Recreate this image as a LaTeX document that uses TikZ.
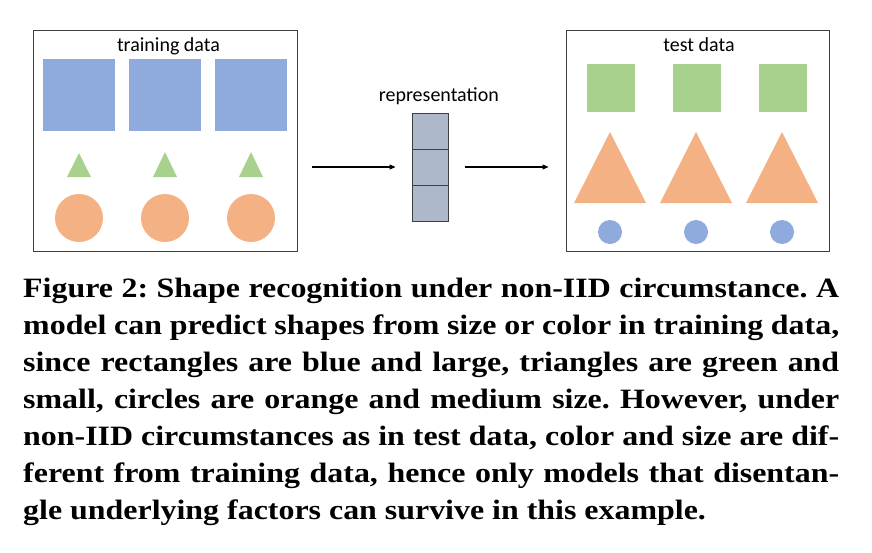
\documentclass[tikz,border=0pt]{standalone}
\usepackage{fontspec}
\setmainfont{Carlito}
\newfontfamily\capfont[FakeStretch=1.14]{Liberation Serif}
\usetikzlibrary{positioning,arrows.meta}

\definecolor{shpblue}{HTML}{8FAADC}
\definecolor{shpgreen}{HTML}{A9D18E}
\definecolor{shporange}{HTML}{F4B183}
\definecolor{repgray}{HTML}{ADB9CA}
\definecolor{frame}{HTML}{404040}

\begin{document}
\begin{tikzpicture}[
  x=1pt,
  y=-1pt,
  font=\fontsize{20}{24}\selectfont,
  panel/.style={
    rectangle,
    draw=frame,
    line width=1pt,
    minimum width=264pt,
    minimum height=221pt,
    inner sep=0pt
  },
  title/.style={
    anchor=base,
    inner sep=0pt
  },
  sq/.style={
    rectangle,
    inner sep=0pt,
    minimum size=#1
  },
  dot/.style={
    circle,
    inner sep=0pt,
    minimum size=#1
  },
  cell/.style={
    rectangle,
    draw=frame,
    line width=1pt,
    fill=repgray,
    minimum size=36pt,
    inner sep=0pt
  },
  arr/.style={
    -{Triangle[length=6pt,width=5pt]},
    line width=1.1pt
  }
]

\useasboundingbox (0,0) rectangle (872,552);

% =========================================================
% TRAINING DATA
% =========================================================

\node[panel] (train) at (165,140.5) {};
\node[title] (trainlbl) at (168.5,51) {training data};

\node[sq=72pt, fill=shpblue] (tsq1) at (79,95) {};
\node[sq=72pt, fill=shpblue] (tsq2) at (165,95) {};
\node[sq=72pt, fill=shpblue] (tsq3) at (251,95) {};

\fill[shpgreen] (67,177) -- (79,153) -- (91,177) -- cycle;
\fill[shpgreen] (153,177) -- (165,152) -- (177,177) -- cycle;
\fill[shpgreen] (239,177) -- (251,152) -- (263,177) -- cycle;

\node[dot=48pt, fill=shporange] (tdot1) at (79,218) {};
\node[dot=48pt, fill=shporange] (tdot2) at (165,218) {};
\node[dot=48pt, fill=shporange] (tdot3) at (251,218) {};


% =========================================================
% REPRESENTATION
% =========================================================

\node[cell] (rep1) at (430,131) {};
\node[cell] (rep2) at (430,167) {};
\node[cell] (rep3) at (430,203) {};

\node[title] (replbl) at (438.8,101) {representation};


% =========================================================
% TEST DATA
% =========================================================

\node[panel, minimum width=263pt] (test) at (697.5,140.5) {};
\node[title] (testlbl) at (699,51) {test data};

\node[sq=48pt, fill=shpgreen] (esq1) at (611,88) {};
\node[sq=48pt, fill=shpgreen] (esq2) at (697,88) {};
\node[sq=48pt, fill=shpgreen] (esq3) at (783,88) {};

\fill[shporange] (574,203) -- (610,132) -- (646,203) -- cycle;
\fill[shporange] (660,203) -- (696,132) -- (732,203) -- cycle;
\fill[shporange] (746,203) -- (782,132) -- (818,203) -- cycle;

\node[dot=24pt, fill=shpblue] (edot1) at (610,232) {};
\node[dot=24pt, fill=shpblue] (edot2) at (696,232) {};
\node[dot=24pt, fill=shpblue] (edot3) at (782,232) {};


% =========================================================
% ARROWS
% =========================================================

\draw[arr, shorten <=14pt, shorten >=16pt]
  (train.east |- rep2.west) -- (rep2.west);

\draw[arr, shorten <=16pt, shorten >=17pt]
  (rep2.east) -- (test.west |- rep2.east);


% =========================================================
% CAPTION
% =========================================================

\node[
  anchor=north west,
  inner sep=0pt,
  text width=816pt,
  align=justify,
  font=\capfont\bfseries\fontsize{28}{36.9}\selectfont
] (cap) at (23,278)
{\frenchspacing\hyphenpenalty=10000\tolerance=10000
Figure 2: Shape recognition under non-IID circumstance. A\linebreak
model can predict shapes from size or color in training data,\linebreak
since rectangles are blue and large, triangles are green and\linebreak
small, circles are orange and medium size. However, under\linebreak
non-IID circumstances as in test data, color and size are dif-\linebreak
ferent from training data, hence only models that disentan-\linebreak
gle underlying factors can survive in this example.};

\end{tikzpicture}
\end{document}
